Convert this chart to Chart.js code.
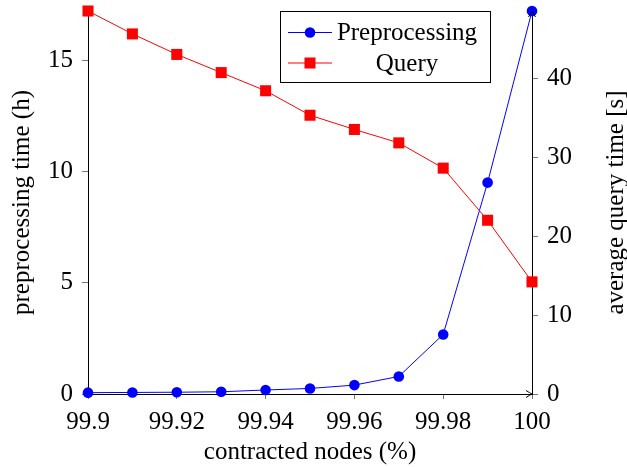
<!DOCTYPE html>
<html lang="en">
<head>
<meta charset="UTF-8">
<title>Preprocessing vs query time</title>
<script src="https://cdn.jsdelivr.net/npm/chart.js"></script>
<style>
  body { margin: 0; background: #fff; }
  #wrap { width: 627px; height: 467px; }
</style>
</head>
<body>
<div id="wrap"><canvas id="myChart" width="627" height="467"></canvas></div>
<script>
// data
const contracted = [99.9, 99.91, 99.92, 99.93, 99.94, 99.95, 99.96, 99.97, 99.98, 99.99, 100];
const preprocessing = [0.06, 0.07, 0.08, 0.1, 0.18, 0.25, 0.4, 0.79, 2.68, 9.51, 17.23];
const query = [48.5, 45.6, 43.0, 40.7, 38.4, 35.3, 33.5, 31.8, 28.6, 22.0, 14.2];

const xTicks = [99.9, 99.92, 99.94, 99.96, 99.98, 100];
const leftTicks = [0, 5, 10, 15];
const rightTicks = [0, 10, 20, 30, 40];

const FONT = 'Liberation Serif';
const FS = 25;
const BLUE = '#0000ff';
const RED = '#ff0000';

function toPoints(ys) {
    return contracted.map((x, i) => ({ x: x, y: ys[i] }));
}
function setTicks(arr) {
    return function (axis) { axis.ticks = arr.map(v => ({ value: v })); };
}
// fixed scale size, no extra label padding
function fixSize(w, h) {
    return function (s) {
        if (w) s.width = w;
        if (h) s.height = h;
        s.paddingTop = 0; s.paddingBottom = 0;
        s.paddingLeft = 0; s.paddingRight = 0;
    };
}

// legend box, right axis title and arrows
const extras = {
    id: 'extras',
    afterDraw(chart) {
        const ctx = chart.ctx;
        const a = chart.chartArea;
        ctx.save();
        ctx.strokeStyle = '#000';
        ctx.lineWidth = 1;
        // arrows
        ctx.beginPath();
        ctx.moveTo(a.right - 6, a.bottom - 3.5);
        ctx.quadraticCurveTo(a.right - 2, a.bottom - 1, a.right, a.bottom);
        ctx.quadraticCurveTo(a.right - 2, a.bottom + 1, a.right - 6, a.bottom + 3.5);
        ctx.moveTo(a.right - 3.5, a.top + 6);
        ctx.quadraticCurveTo(a.right - 1, a.top + 2, a.right, a.top);
        ctx.quadraticCurveTo(a.right + 1, a.top + 2, a.right + 3.5, a.top + 6);
        ctx.stroke();

        // right axis title (bottom to top)
        ctx.fillStyle = '#000';
        ctx.font = FS + 'px "' + FONT + '"';
        ctx.textAlign = 'center';
        ctx.textBaseline = 'middle';
        ctx.translate(616, (a.top + a.bottom) / 2);
        ctx.rotate(-Math.PI / 2);
        ctx.fillText('average query time [s]', 0, 0);
        ctx.restore();

        // legend
        ctx.save();
        const lx = 280.5, ly = 11.5, lw = 210, lh = 71;
        ctx.fillStyle = '#fff';
        ctx.fillRect(lx, ly, lw, lh);
        ctx.strokeStyle = '#000';
        ctx.lineWidth = 1;
        ctx.strokeRect(lx, ly, lw, lh);
        const rows = [
            { text: 'Preprocessing', color: BLUE, style: 'circle', r: 5.3, y: 32.5 },
            { text: 'Query', color: RED, style: 'rect', r: 7.8, y: 63 }
        ];
        rows.forEach(row => {
            ctx.strokeStyle = row.color;
            ctx.beginPath();
            ctx.moveTo(288, row.y);
            ctx.lineTo(332, row.y);
            ctx.stroke();
            ctx.fillStyle = row.color;
            Chart.helpers.drawPoint(ctx, { pointStyle: row.style, radius: row.r, borderWidth: 0 }, 310, row.y);
            ctx.fillStyle = '#000';
            ctx.font = FS + 'px "' + FONT + '"';
            ctx.textAlign = 'center';
            ctx.textBaseline = 'middle';
            ctx.fillText(row.text, 407, row.y + 1);
        });
        ctx.restore();
    }
};

const ctx = document.querySelector('#myChart');

const myChart = new Chart(ctx, {
    type: 'line',
    data: {
        datasets: [{
            label: 'Preprocessing',
            data: toPoints(preprocessing),
            yAxisID: 'y',
            borderColor: BLUE,
            backgroundColor: BLUE,
            borderWidth: 1,
            pointStyle: 'circle',
            pointRadius: 5.3,
            pointBorderWidth: 0,
            clip: false,
            order: 2
        }, {
            label: 'Query',
            data: toPoints(query),
            yAxisID: 'y1',
            borderColor: RED,
            backgroundColor: RED,
            borderWidth: 1,
            pointStyle: 'rect',
            pointRadius: 7.8,
            pointBorderWidth: 0,
            clip: false,
            order: 1
        }]
    },
    options: {
        responsive: false,
        animation: false,
        layout: { padding: { top: 11, left: 0, right: 0, bottom: 0 } },
        plugins: {
            legend: { display: false },
            tooltip: { enabled: false }
        },
        scales: {
            x: {
                type: 'linear',
                min: Math.min(...contracted),
                max: Math.max(...contracted),
                afterBuildTicks: setTicks(xTicks),
                afterFit: fixSize(0, 73),
                grid: { drawOnChartArea: false, tickLength: 5, color: '#777' },
                border: { color: '#000', width: 1 },
                ticks: {
                    padding: 8,
                    maxRotation: 0,
                    color: '#000',
                    font: { family: FONT, size: FS },
                    callback: v => String(Math.round(v * 100) / 100)
                },
                title: {
                    display: true,
                    text: 'contracted nodes (%)',
                    color: '#000',
                    font: { family: FONT, size: FS },
                    padding: { top: 0, bottom: 0 }
                }
            },
            y: {
                position: 'left',
                min: 0,
                max: Math.max(...preprocessing),
                afterBuildTicks: setTicks(leftTicks),
                afterFit: fixSize(88, 0),
                grid: { drawOnChartArea: false, tickLength: 6, color: '#777' },
                border: { color: '#000', width: 1 },
                ticks: {
                    padding: 9,
                    color: '#000',
                    font: { family: FONT, size: FS }
                },
                title: {
                    display: true,
                    text: 'preprocessing time (h)',
                    color: '#000',
                    font: { family: FONT, size: FS },
                    padding: { top: 7, bottom: 0 }
                }
            },
            y1: {
                position: 'right',
                min: 0,
                max: Math.max(...query),
                afterBuildTicks: setTicks(rightTicks),
                afterFit: fixSize(95, 0),
                grid: { drawOnChartArea: false, tickLength: 6, color: '#777' },
                border: { color: '#000', width: 1 },
                ticks: {
                    padding: 9,
                    color: '#000',
                    font: { family: FONT, size: FS }
                }
            }
        }
    },
    plugins: [extras]
});
</script>
</body>
</html>
